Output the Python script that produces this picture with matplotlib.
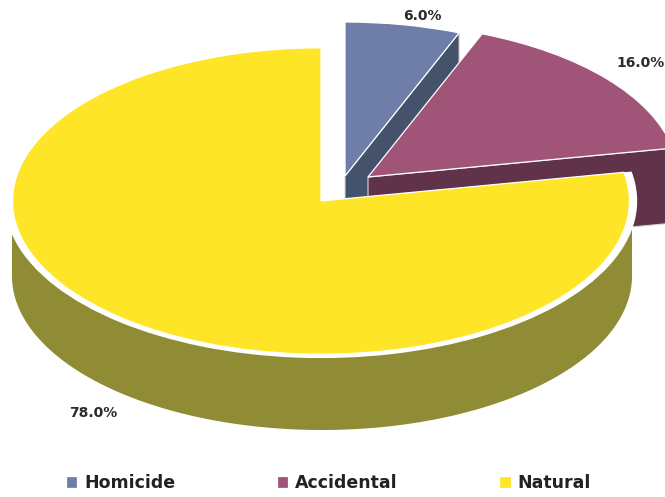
import numpy as np
import matplotlib
matplotlib.use("Agg")
import matplotlib.pyplot as plt
from matplotlib.patches import Wedge

labels = ['Homicide', 'Accidental', 'Natural']
values = [6.0, 16.0, 78.0]
colors = ['#6e7ea8', '#a05478', '#ffe528']
dark_colors = ['#44526b', '#60334b', '#8f8c35']

W, H = 665, 497
RX, RY = 310.0, 154.0   # size of the squashed pie in pixels
CX, CY = 322.0, 201.0   # pixel position of the data origin
DEPTH = 75 / RY

plt.rcParams['font.family'] = ['DejaVu Sans']


def px(x, y):
    return (x - CX) / RX, (CY - y) / RY


fig = plt.figure(figsize=(W / 100, H / 100), dpi=100)
ax = fig.add_axes([0, 0, 1, 1])

wedges, texts = ax.pie(values, colors=colors, startangle=90, counterclock=False,
                       wedgeprops={'edgecolor': 'white', 'linewidth': 0.9})
ax.set_aspect('auto')
ax.set_xlim(-CX / RX, (W - CX) / RX)
ax.set_ylim((CY - H) / RY, CY / RY)

blue, purple, yellow = wedges
blue.set_center(px(345, 176))
purple.set_center(px(368, 177))
yellow.set_center(px(321, 201))
yellow.set_radius(0.995)
blue.set_zorder(3)
purple.set_zorder(6)
yellow.set_zorder(11)


def cut_face(wedge, angle, color, z):
    # straight side of a slice, pushed down by the depth
    cx, cy = wedge.center
    a = np.radians(angle)
    ex, ey = cx + np.cos(a), cy + np.sin(a)
    ax.fill([cx, ex, ex, cx], [cy, ey, ey - DEPTH, cy - DEPTH], color=color,
            lw=0.8, ec='#d8d8d8', zorder=z)


def rim(center, a1, a2, color, z):
    t = np.radians(np.linspace(a1, a2, 200))
    x = center[0] + np.cos(t)
    y = center[1] + np.sin(t)
    ax.fill(np.r_[x, x[::-1]], np.r_[y, y[::-1] - DEPTH], color=color, lw=0, zorder=z)


# slices were drawn clockwise so theta1 is the far clockwise edge
cut_face(blue, blue.theta1, dark_colors[0], 2)
cut_face(purple, purple.theta1, dark_colors[1], 5)
rim(purple.center, 0, purple.theta1, dark_colors[1], 4)
rim(px(322, 201), 180, 360, dark_colors[2], 9)

# white band round the yellow slice
band = Wedge(yellow.center, 1.02, yellow.theta1, yellow.theta2, fc='white', ec='none', zorder=10)
ax.add_patch(band)

label_pos = [(422, 16), (641, 63), (93, 413)]
for v, p in zip(values, label_pos):
    x, y = px(*p)
    ax.text(x, y, f'{v:.1f}%', fontsize=10, fontweight='bold', color='#2b2b2b',
            ha='center', va='center', zorder=20)

ax.legend(wedges, labels, ncols=3, frameon=False, labelcolor='#222222',
          prop={'size': 12.5, 'weight': 'bold'},
          handlelength=0.65, handleheight=0.65, handletextpad=0.4, columnspacing=5.85,
          loc='center left', bbox_to_anchor=(66 / W, 1 - 483 / H), borderaxespad=0, borderpad=0)

fig.savefig('out.png', dpi=100)
